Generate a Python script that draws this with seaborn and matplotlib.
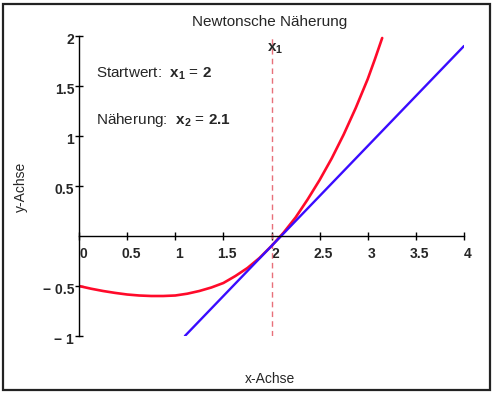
import numpy as np
import matplotlib
matplotlib.use("Agg")
import matplotlib.pyplot as plt
import matplotlib.transforms as mtransforms
from matplotlib.patches import Rectangle
import seaborn as sns

# Kurve f(x)
kurve_x = [0.0, 0.125, 0.25, 0.375, 0.5, 0.625, 0.75, 0.875, 1.0, 1.125, 1.25,
           1.375, 1.5, 1.625, 1.75, 1.875, 2.0, 2.125, 2.25, 2.375, 2.5,
           2.625, 2.75, 2.875, 3.0, 3.075, 3.15]
kurve_y = [-0.5, -0.527, -0.55, -0.569, -0.585, -0.595, -0.6, -0.6, -0.595,
           -0.577, -0.55, -0.515, -0.47, -0.40, -0.32, -0.22, -0.1, 0.033,
           0.185, 0.365, 0.56, 0.775, 1.015, 1.28, 1.57, 1.77, 1.98]

# Tangente in x1
tangente_x = [1.1, 4.0]
tangente_y = [-1.0, 1.9]

x1 = 2
x2 = 2.1

xticks = [0, 0.5, 1, 1.5, 2, 2.5, 3, 3.5, 4]
xtick_labels = ["0", "0.5", "1", "1.5", "2", "2.5", "3", "3.5", "4"]
yticks = [-1, -0.5, 0.5, 1, 1.5, 2]
ytick_labels = ["\u2212 1", "\u2212 0.5", "0.5", "1", "1.5", "2"]

sns.set_style("white")
plt.rcParams["font.family"] = ["Liberation Sans", "DejaVu Sans"]
plt.rcParams["mathtext.fontset"] = "custom"
plt.rcParams["mathtext.rm"] = "Liberation Sans"
plt.rcParams["mathtext.bf"] = "Liberation Sans:bold"
plt.rcParams["mathtext.it"] = "Liberation Sans:italic"

fig = plt.figure(figsize=(4.93, 3.95), dpi=100)
ax = fig.add_axes([79 / 493, 59 / 395, 385 / 493, 300 / 395])

ax.axvline(x1, color="#e8707a", lw=1, dashes=(4, 3))
sns.lineplot(x=kurve_x, y=kurve_y, ax=ax, color="#ff0a2a", lw=1.9, sort=False)
sns.lineplot(x=tangente_x, y=tangente_y, ax=ax, color="#3a0cff", lw=1.7, sort=False)

ax.set_xlim(0, 4)
ax.set_ylim(-1, 2)

for s in ["top", "right"]:
    ax.spines[s].set_visible(False)
ax.spines["bottom"].set_position(("data", 0))
ax.spines["left"].set_position(("data", 0))
for s in ["bottom", "left"]:
    ax.spines[s].set_color("black")
    ax.spines[s].set_linewidth(1)

ax.set_xticks(xticks)
ax.set_xticklabels(xtick_labels, fontsize=10, fontweight="bold")
ax.set_yticks(yticks)
ax.set_yticklabels(ytick_labels, fontsize=10, fontweight="bold")
ax.tick_params(axis="x", bottom=True, direction="inout", length=6, width=1, pad=5,
               color="black")
ax.tick_params(axis="y", left=True, direction="inout", length=6, width=1, pad=0.5,
               color="black")

# Beschriftungen etwas versetzen wie im Original
dx = mtransforms.ScaledTranslation(4 / 100, 0, fig.dpi_scale_trans)
for lab in ax.get_xticklabels():
    lab.set_transform(lab.get_transform() + dx)
dy = mtransforms.ScaledTranslation(0, -3 / 100, fig.dpi_scale_trans)
for lab in ax.get_yticklabels():
    lab.set_transform(lab.get_transform() + dy)

ax.text(0.177, 1.58, r"Startwert:  $\mathbf{x_1}$ = $\mathbf{2}$", fontsize=11, va="baseline")
ax.text(0.177, 1.122, r"Näherung:  $\mathbf{x_2}$ = $\mathbf{2.1}$", fontsize=11, va="baseline")
ax.text(x1 - 0.05, 1.847, r"$\mathbf{x_1}$", fontsize=11, va="baseline")

fig.text(270 / 493, 1 - 26 / 395, "Newtonsche Näherung", fontsize=11, ha="center", va="baseline")
fig.text(270 / 493, 1 - 383 / 395, "x-Achse", fontsize=10, ha="center", va="baseline")
fig.text(21 / 493, 1 - 187 / 395, "y-Achse", fontsize=10, ha="center", va="center", rotation=90)

fig.patches.append(Rectangle((3 / 493, 5 / 395), 487 / 493, 386 / 395, transform=fig.transFigure,
                             fill=False, edgecolor="#222222", lw=1.6))

fig.savefig("out.png", dpi=100)
